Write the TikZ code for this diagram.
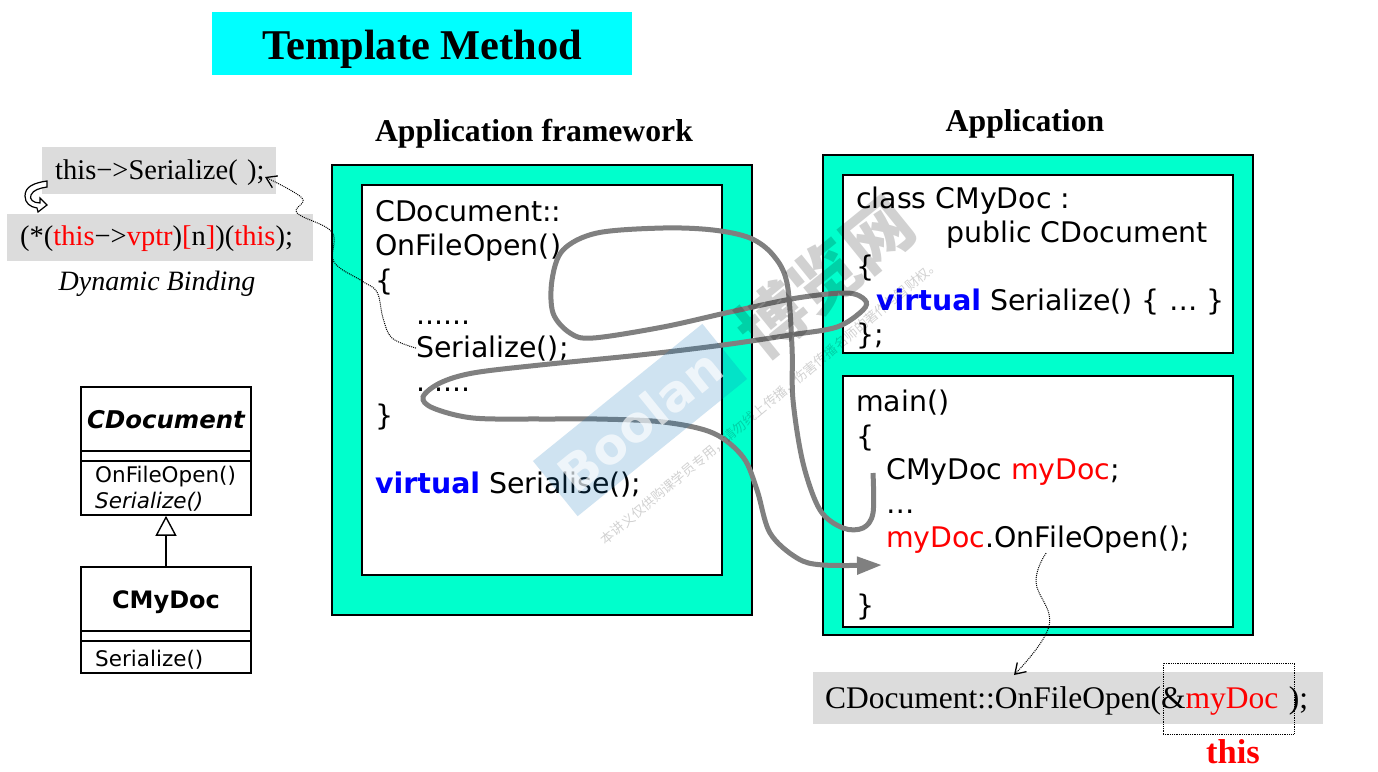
\documentclass[tikz,border=0pt]{standalone}
\usepackage{fontspec}
\setmainfont{Liberation Serif}
\setsansfont{DejaVu Sans}
\newfontfamily\cjkfont{Noto Sans CJK SC}
\usetikzlibrary{arrows.meta}
\definecolor{tmcyan}{RGB}{0,255,255}
\definecolor{tmteal}{RGB}{0,255,204}
\definecolor{tmgray}{RGB}{220,220,220}
\definecolor{tmline}{RGB}{128,128,128}
\definecolor{tmblue}{RGB}{0,0,255}
\definecolor{tmred}{RGB}{255,0,0}
\definecolor{wmblue}{RGB}{15,115,185}
\newcommand{\rd}[1]{\textcolor{tmred}{#1}}
\newcommand{\kw}[1]{\textcolor{tmblue}{\bfseries #1}}
\tikzset{
  codetext/.style={anchor=base west,inner sep=0pt,yshift=-1pt,font=\sffamily\fontsize{28.4}{34}\selectfont},
  umltext/.style={anchor=base west,inner sep=0pt,font=\sffamily\fontsize{21.5}{26}\selectfont},
  umlbox/.style={draw,line width=1.6pt,minimum width=170pt,inner sep=0pt},
  headtext/.style={inner sep=0pt,font=\rmfamily\bfseries\fontsize{31.7}{38}\selectfont},
  graybox/.style={fill=tmgray,anchor=north west,align=left,inner sep=0pt,text depth=0pt,font=\rmfamily\fontsize{28.5}{34}\selectfont},
  framebox/.style={draw,line width=1.6pt,fill=tmteal},
  pagebox/.style={draw,line width=1.6pt,fill=white},
  dotlink/.style={densely dotted,line width=1pt,-{Straight Barb[length=10pt,width=13pt,line width=1.3pt]}},
  flowline/.style={tmline,line width=5pt,-{Triangle[length=25pt,width=17pt]}},
}
\begin{document}
\begin{tikzpicture}[x=1pt,y=-1pt]
  \useasboundingbox (0,0) rectangle (1378,771);
  \node[fill=tmcyan,minimum width=420pt,minimum height=63pt,inner sep=0pt,text height=31pt,text depth=0pt,font=\rmfamily\bfseries\fontsize{42.4}{50}\selectfont] (title) at (422,43.5) {Template Method};
  \node[headtext] (frameworkhead) at (534,134) {Application framework};
  \node[headtext] (apphead) at (1025,124) {Application};

  \draw[framebox] (332,165) rectangle (752,615);
  \draw[pagebox] (362,185) rectangle (722,575);
  \draw[framebox] (823,155) rectangle (1253,635);
  \draw[pagebox] (843,175) rectangle (1233,353);
  \draw[pagebox] (843,376) rectangle (1233,627);

  \node[codetext] (fwclass) at (375,220) {CDocument::};
  \node[codetext] (fwopen) at (375,254) {OnFileOpen()};
  \node[codetext] (fwbegin) at (375,289) {\{};
  \node[codetext] (fwdotsa) at (416,323) {......};
  \node[codetext] (fwserialize) at (416,356) {Serialize();};
  \node[codetext] (fwdotsb) at (416,390) {......};
  \node[codetext] (fwend) at (375,424) {\}};
  \node[codetext] (fwvirtual) at (375,492) {\kw{virtual} Serialise();};

  \node[codetext] (appclass) at (856,207) {class CMyDoc :};
  \node[codetext] (apppublic) at (946,241) {public CDocument};
  \node[codetext] (appbegin) at (856,275) {\{};
  \node[codetext] (appvirtual) at (876,309) {\kw{virtual} Serialize() \{ … \}};
  \node[codetext] (append) at (856,343) {\};};

  \node[codetext] (mainhead) at (856,410) {main()};
  \node[codetext] (mainbegin) at (856,445) {\{};
  \node[codetext] (maindoc) at (886,478) {CMyDoc \rd{myDoc};};
  \node[codetext] (maindots) at (886,512) {…};
  \node[codetext] (maincall) at (886,546) {\rd{myDoc}.OnFileOpen();};
  \node[codetext] (mainend) at (856,614) {\}};

  \node[graybox,text width=234pt,minimum height=47pt,text height=18pt] (serializecall) at (42,147) {\hspace*{13pt}this−>Serialize( );};
  \node[graybox,text width=306pt,minimum height=47pt,text height=16pt] (vptrcall) at (7,214) {\hspace*{13pt}(*(\rd{this}−>\rd{vptr})\rd{[}n\rd{]})(\rd{this});};
  \node[inner sep=0pt,font=\rmfamily\itshape\fontsize{28}{34}\selectfont] (bindinglabel) at (157,284) {Dynamic Binding};
  \draw[line width=1.2pt,fill=white] (47,181) .. controls (33,183) and (25,187) .. (25,196) .. controls (25,203) and (30,207) .. (37,208) -- (38,212) -- (47,205) -- (40,198) -- (40,203) .. controls (33,203) and (29,199) .. (31,195) .. controls (33,190) and (40,188) .. (47,187) -- cycle;

  \node[umlbox,minimum height=128pt] (cdocbox) at (166,451) {};
  \node[umlbox,minimum height=106pt] (mydocbox) at (166,620) {};
  \draw[line width=1.6pt] (81,451) -- (251,451) (81,461) -- (251,461);
  \draw[line width=1.6pt] (81,631) -- (251,631) (81,641) -- (251,641);
  \node[inner sep=0pt,font=\sffamily\bfseries\itshape\fontsize{24.4}{29}\selectfont] (cdocname) at (166,420) {CDocument};
  \node[inner sep=0pt,font=\sffamily\bfseries\fontsize{24}{29}\selectfont] (mydocname) at (166,602) {CMyDoc};
  \node[umltext] (cdocopen) at (95,482) {OnFileOpen()};
  \node[umltext] (cdocserialize) at (95,508) {\itshape Serialize()};
  \node[umltext] (mydocserialize) at (95,666) {Serialize()};
  \draw[line width=1.4pt,-{Triangle[open,fill=white,length=20pt,width=21pt]}] (mydocbox) -- (cdocbox);

  \node[graybox,text width=510pt,minimum height=52pt,text height=20pt,font=\rmfamily\fontsize{31.5}{38}\selectfont] (fullcall) at (813,672) {\hspace*{12pt}CDocument::OnFileOpen(\&\rd{myDoc}\ );};
  \node[draw,densely dotted,line width=.8pt,minimum width=131pt,minimum height=71pt,inner sep=0pt] (thisbox) at (1228.5,698.5) {};
  \node[inner sep=0pt,text=tmred,font=\rmfamily\bfseries\fontsize{34.5}{40}\selectfont] (thislabel) at (1233,752) {this};

  \coordinate (serializetip) at (265,177);
  \coordinate (fullcalltip) at (1014,675);
  \draw[dotlink] plot[smooth,tension=.6] coordinates {(fwserialize.west) (392,338) (383,318) (377,292) (362,281) (334,262) (332,232) (297,213) (302,198) (serializetip)};
  \draw[dotlink] plot[smooth,tension=.7] coordinates {([xshift=8pt]maincall.south) (1036,582) (1049,626) (fullcalltip)};

  \coordinate (flowstart) at (873,473);
  \coordinate (flowend) at (882,565);
  \draw[flowline] plot[smooth,tension=.55] coordinates {(flowstart) (873,513) (863,528) (843,528) (820,510) (803,463) (793,400) (792,347) (787,283) (773,255) (750,238) (713,230) (663,228) (597,233) (563,250) (552,280) (553,313) (570,333) (593,338) (663,327) (730,312) (797,298) (847,293) (865,300) (863,310) (837,327) (790,335) (723,345) (640,355) (540,365) (473,373) (440,383) (423,397) (433,408) (473,418) (540,419) (597,419) (663,422) (713,433) (743,457) (757,490) (770,533) (797,558) (823,565) (flowend)};

  \node[fill=wmblue,fill opacity=.2,text opacity=.65,text=white,rotate=39,minimum width=218pt,minimum height=71pt,inner sep=0pt,font=\sffamily\bfseries\fontsize{50}{60}\selectfont] (wmboolan) at (640,420) {Boolan};
  \node[text=black,text opacity=.18,rotate=39,inner sep=0pt,font=\cjkfont\bfseries\fontsize{68}{80}\selectfont] (wmname) at (825,277) {博览网};
  \node[text=black,text opacity=.18,rotate=39.8,inner sep=0pt,font=\cjkfont\fontsize{13.2}{16}\selectfont] (wmnote) at (770,402) {本讲义仅供购课学员专用，请勿线上传播，伤害传播名师的著作与智财权。};
\end{tikzpicture}
\end{document}
